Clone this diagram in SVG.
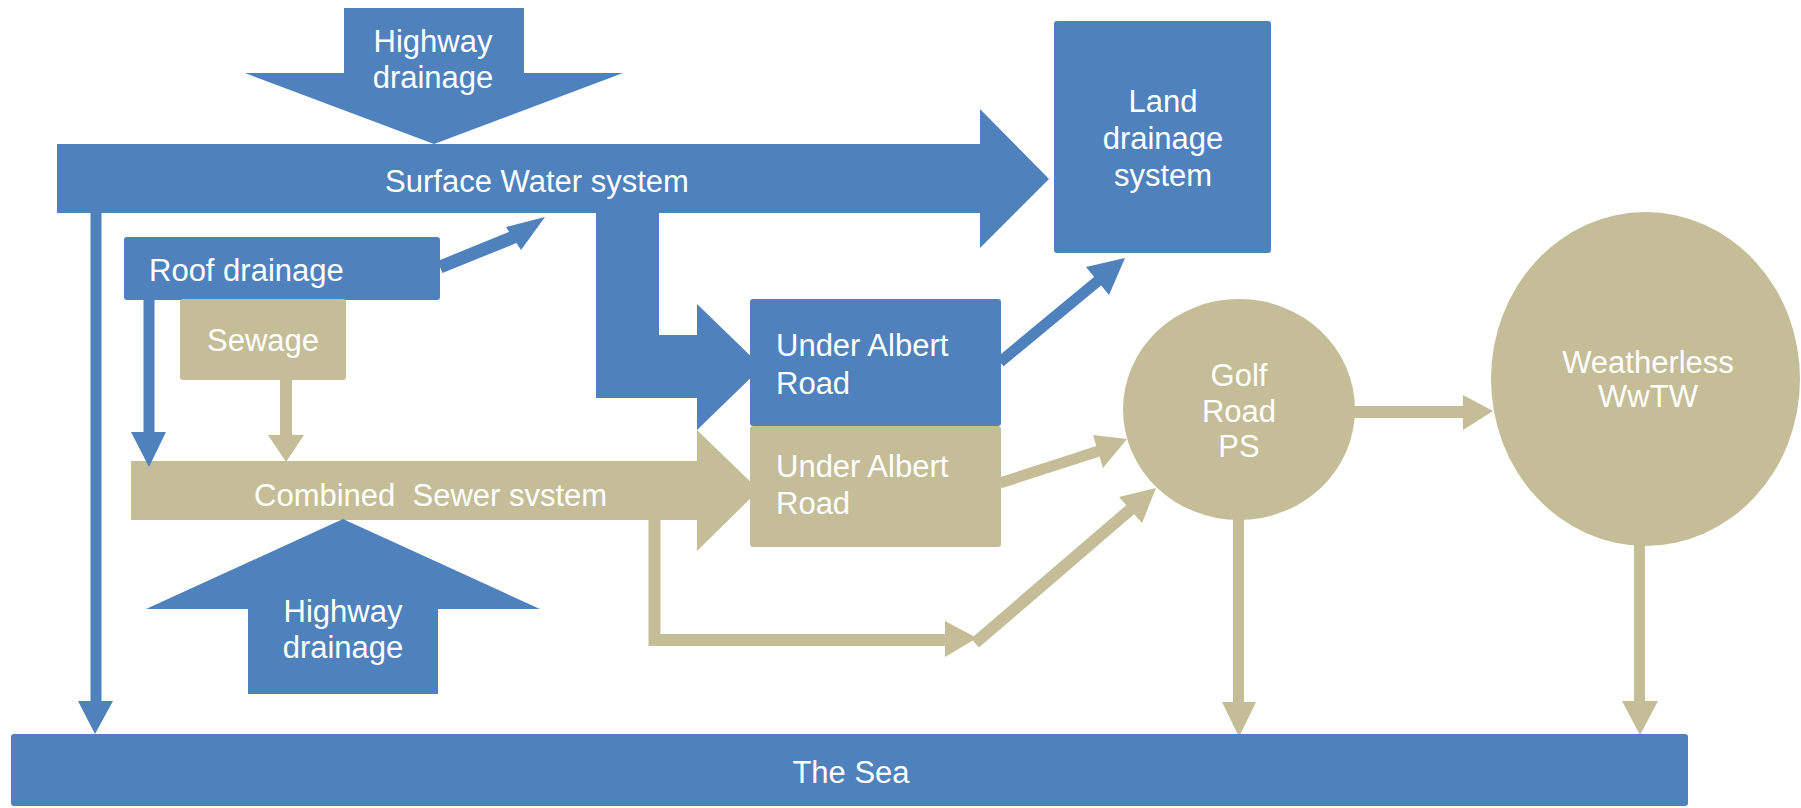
<svg xmlns="http://www.w3.org/2000/svg" width="1801" height="808" viewBox="0 0 1801 808">
<style>
.b{fill:#4F81BD}
.t{fill:#C4BD97}
.lb{stroke:#4F81BD;fill:none}
.lt{stroke:#C4BD97;fill:none}
text{font-family:"Liberation Sans",Arial,sans-serif;font-size:31px;fill:#FFFFFF}
.m{text-anchor:middle}
.pre{white-space:pre}
</style>
<rect width="1801" height="808" fill="#FFFFFF"/>
<g id="highway-top">
<polygon class="b" points="344,8 524,8 524,73 623,73 434,144 245,73 344,73"/>
<text class="m" x="433" y="52">Highway</text>
<text class="m" x="433" y="88">drainage</text>
</g>
<g id="surface-water">
<polygon class="b" points="57,144 980,144 980,109 1049,179 980,248 980,213 57,213"/>
<text class="m" x="537" y="192">Surface Water system</text>
</g>
<g id="combined-sewer">
<polygon class="t" points="131,461 697,461 697,430 759,490 697,551 697,520 131,520"/>
<text class="pre" x="254" y="506" xml:space="preserve">Combined  Sewer svstem</text>
</g>
<g id="highway-bottom">
<polygon class="b" points="248,694 248,609 146,609 343,519 540,609 438,609 438,694"/>
<text class="m" x="343" y="622">Highway</text>
<text class="m" x="343" y="658">drainage</text>
</g>
<g id="connectors">
<polygon class="b" points="596,210 659,210 659,335 697,335 697,304 762,367 697,430 697,398 596,398"/>
<line class="lb" x1="96" y1="212" x2="96" y2="703" stroke-width="11"/>
<polygon class="b" points="78,701 113,701 95,734"/>
<line class="lb" x1="149" y1="300" x2="149" y2="434" stroke-width="11"/>
<polygon class="b" points="131,432 166,432 149,467"/>
<line class="lb" x1="440" y1="267" x2="514" y2="237" stroke-width="13"/>
<polygon class="b" points="506,227 545,217 521,250"/>
<line class="lb" x1="1000" y1="362" x2="1099" y2="280" stroke-width="11"/>
<polygon class="b" points="1086,267 1125,258 1109,295"/>
<line class="lt" x1="286" y1="380" x2="286" y2="437" stroke-width="12"/>
<polygon class="t" points="268,435 304,435 286,462"/>
<line class="lt" x1="1000" y1="483" x2="1099" y2="451" stroke-width="11"/>
<polygon class="t" points="1093,435 1127,439 1103,468"/>
<polyline class="lt" points="654.5,519 654.5,640 947,640" stroke-width="12"/>
<polygon class="t" points="945,621 977,638 945,657"/>
<line class="lt" x1="975" y1="643" x2="1131" y2="509" stroke-width="12"/>
<polygon class="t" points="1119,497 1156,488 1142,523"/>
<line class="lt" x1="1354" y1="412" x2="1465" y2="412" stroke-width="12"/>
<polygon class="t" points="1463,395 1493,411 1463,430"/>
<line class="lt" x1="1238.5" y1="518" x2="1238.5" y2="704" stroke-width="11"/>
<polygon class="t" points="1222,702 1256,702 1239,737"/>
<line class="lt" x1="1639.5" y1="544" x2="1639.5" y2="703" stroke-width="11"/>
<polygon class="t" points="1622,701 1658,701 1640,735"/>
</g>
<g id="land-drainage">
<rect class="b" x="1054" y="21" width="217" height="232" rx="3"/>
<text class="m" x="1163" y="112">Land</text>
<text class="m" x="1163" y="149">drainage</text>
<text class="m" x="1163" y="186">system</text>
</g>
<g id="roof-drainage">
<rect class="b" x="124" y="237" width="316" height="63" rx="3"/>
<text x="149" y="281">Roof drainage</text>
</g>
<g id="sewage">
<rect class="t" x="180" y="299" width="166" height="81" rx="3"/>
<text class="m" x="263" y="351">Sewage</text>
</g>
<g id="under-albert-blue">
<rect class="b" x="750" y="299" width="251" height="127" rx="3"/>
<text x="776" y="356">Under Albert</text>
<text x="776" y="394">Road</text>
</g>
<g id="under-albert-tan">
<rect class="t" x="750" y="426" width="251" height="121" rx="3"/>
<text x="776" y="477">Under Albert</text>
<text x="776" y="514">Road</text>
</g>
<g id="golf-road-ps">
<ellipse class="t" cx="1239" cy="409.5" rx="116" ry="110.5"/>
<text class="m" x="1239" y="386">Golf</text>
<text class="m" x="1239" y="422">Road</text>
<text class="m" x="1239" y="457">PS</text>
</g>
<g id="weatherless">
<ellipse class="t" cx="1645.5" cy="379" rx="154.5" ry="167"/>
<text class="m" x="1648" y="373">Weatherless</text>
<text class="m" x="1648" y="407">WwTW</text>
</g>
<g id="the-sea">
<rect class="b" x="11" y="734" width="1677" height="72" rx="3"/>
<text class="m" x="851" y="783">The Sea</text>
</g>
</svg>
